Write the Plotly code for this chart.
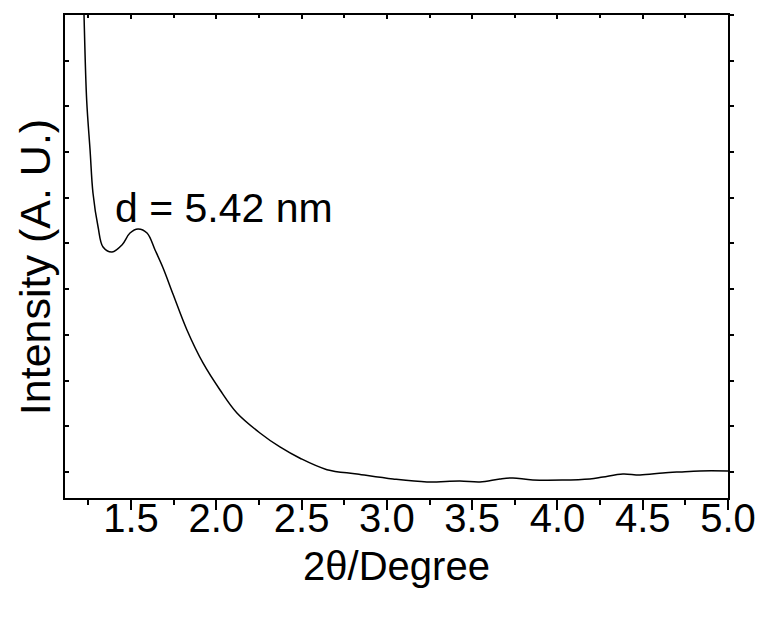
import plotly.graph_objects as go

# 2-theta (degree)
two_theta = [1.221, 1.2245, 1.240, 1.260, 1.277, 1.307, 1.336, 1.389, 1.447, 1.494,
             1.541, 1.594, 1.641, 1.688, 1.746, 1.828, 1.922, 2.022, 2.121, 2.256,
             2.373, 2.491, 2.649, 2.825, 3.036, 3.235, 3.428, 3.546, 3.663, 3.739,
             3.856, 4.190, 4.267, 4.384, 4.484, 4.618, 4.718, 4.835, 5.000]
# intensity (arbitrary units)
intensity = [10547, 10000, 8140, 7045, 6105, 5361, 4923, 4814, 4967, 5229,
             5317, 5229, 4857, 4464, 3895, 3107, 2385, 1794, 1291, 853,
             547, 300, 50, -44, -153, -219, -197, -219, -153, -131,
             -175, -153, -109, -44, -66, -22, 0, 22, 22]

x_range = [1.113, 5.0]
y_range = [-570, 10000]

font_family = "Liberation Sans, Arial, sans-serif"

fig = go.Figure()
fig.add_trace(go.Scatter(
    x=two_theta, y=intensity, mode="lines",
    line=dict(color="black", width=1.5, shape="spline", smoothing=1.0),
    showlegend=False, hoverinfo="skip",
))
# empty trace so the mirrored top/right axes are drawn
fig.add_trace(go.Scatter(x=[None], y=[None], xaxis="x2", yaxis="y2",
                         mode="lines", showlegend=False, hoverinfo="skip"))

fig.add_annotation(
    x=1.394, y=5785, xref="x", yref="y", text="d = 5.42 nm",
    showarrow=False, xanchor="left", yanchor="middle",
    font=dict(family=font_family, size=41, color="black"),
)
# y-axis title
fig.add_annotation(
    x=0, y=0.478, xref="paper", yref="paper", xshift=-30,
    text="Intensity (A. U.)", textangle=-90, showarrow=False,
    xanchor="center", yanchor="middle",
    font=dict(family=font_family, size=43, color="black"),
)

fig.update_layout(
    width=752, height=605,
    margin=dict(l=57, r=32, t=7, b=115),
    paper_bgcolor="white", plot_bgcolor="white",
    font=dict(family=font_family, color="black"),
    xaxis=dict(
        range=x_range, showgrid=False, zeroline=False, automargin=False,
        showline=True, linecolor="black", linewidth=2,
        ticks="outside", ticklen=10, tickwidth=2, tickcolor="black",
        tick0=1.5, dtick=0.5, tickformat=".1f",
        ticklabelstandoff=-26, ticklabeloverflow="allow",
        minor=dict(ticks="outside", ticklen=5, tickwidth=2, tickcolor="black", dtick=0.25, tick0=1.25, showgrid=False),
        tickfont=dict(family=font_family, size=40, color="black"),
        title=dict(text="2θ/Degree", font=dict(family=font_family, size=40, color="black"), standoff=13),
    ),
    xaxis2=dict(
        range=x_range, overlaying="x", side="top", matches="x",
        showgrid=False, zeroline=False, showline=True, linecolor="black", linewidth=2,
        ticks="inside", ticklen=4, tickwidth=2, tickcolor="black",
        tick0=1.5, dtick=0.5, showticklabels=False, automargin=False,
        minor=dict(ticks="inside", ticklen=3, tickwidth=2, tickcolor="black", dtick=0.25, tick0=1.25, showgrid=False),
    ),
    yaxis=dict(
        range=y_range, showgrid=False, zeroline=False, automargin=False,
        showline=True, linecolor="black", linewidth=2,
        ticks="inside", ticklen=4, tickwidth=2, tickcolor="black",
        tick0=0, dtick=1000, showticklabels=False,
    ),
    yaxis2=dict(
        range=y_range, overlaying="y", side="right", matches="y",
        showgrid=False, zeroline=False, showline=True, linecolor="black", linewidth=2,
        ticks="outside", ticklen=4, tickwidth=2, tickcolor="black",
        tick0=0, dtick=1000, showticklabels=False, automargin=False,
    ),
)

fig.write_html("out.html")
